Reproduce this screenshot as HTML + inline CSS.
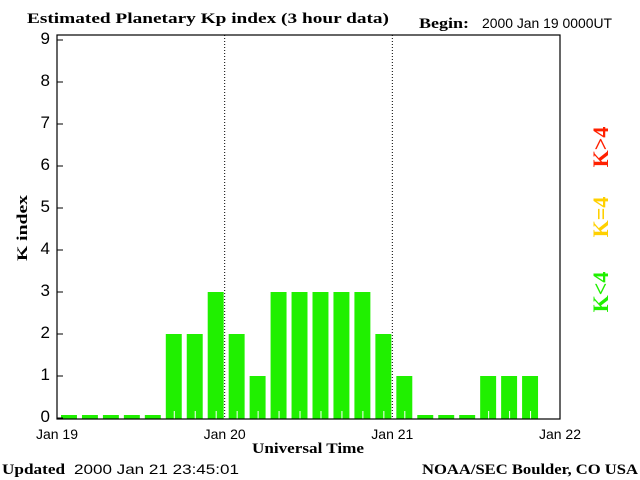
<!DOCTYPE html>
<html><head><meta charset="utf-8"><style>
body{margin:0;background:#fff;}
svg{display:block;}
.serif{font-family:"Liberation Serif",serif;font-weight:bold;}
.sans{font-family:"Liberation Sans",sans-serif;}
</style></head><body>
<svg width="640" height="480" viewBox="0 0 640 480">
<text class="serif" x="27" y="23" font-size="15" textLength="362" lengthAdjust="spacingAndGlyphs">Estimated Planetary Kp index (3 hour data)</text>
<text class="serif" x="419" y="28" font-size="15" textLength="50" lengthAdjust="spacingAndGlyphs">Begin:</text>
<text class="sans" x="482" y="28" font-size="14" textLength="130" lengthAdjust="spacingAndGlyphs">2000 Jan 19 0000UT</text>
<g id="plot"></g>
<text class="serif" x="27" y="228" font-size="15" transform="rotate(-90 27 228)" text-anchor="middle" textLength="66" lengthAdjust="spacingAndGlyphs">K index</text>
<text class="serif" x="252" y="453" font-size="15" textLength="112" lengthAdjust="spacingAndGlyphs">Universal Time</text>
<text class="serif" x="2" y="474" font-size="15" textLength="63" lengthAdjust="spacingAndGlyphs">Updated</text>
<text class="sans" x="74" y="474" font-size="14" textLength="165" lengthAdjust="spacingAndGlyphs">2000 Jan 21 23:45:01</text>
<text class="serif" x="422" y="474" font-size="15" textLength="216" lengthAdjust="spacingAndGlyphs">NOAA/SEC Boulder, CO USA</text>
<text class="serif" x="608" y="147" font-size="22" fill="#ff2000" text-anchor="middle" transform="rotate(-90 608 147)">K&gt;4</text>
<text class="serif" x="608" y="217" font-size="22" fill="#ffd000" text-anchor="middle" transform="rotate(-90 608 217)">K=4</text>
<text class="serif" x="608" y="292" font-size="22" fill="#20f000" text-anchor="middle" transform="rotate(-90 608 292)">K&lt;4</text>
</svg>
<script>
const dayLabels=["Jan 19","Jan 20","Jan 21","Jan 22"];
const yTicks=[0,1,2,3,4,5,6,7,8,9];
const kpValues=[0,0,0,0,0,2,2,3, 2,1,3,3,3,3,3,2, 1,0,0,0,1,1,1];
const X0=57,X1=560,Y0=419,YT=35;
const slotW=(X1-X0)/24;
function xs(slot){return X0+slot*slotW;}
function ys(v){return 418-v*42;}
const NS="http://www.w3.org/2000/svg";
const g=document.getElementById('plot');
function mk(t,a){const e=document.createElementNS(NS,t);for(const k in a)e.setAttribute(k,a[k]);g.appendChild(e);return e;}
kpValues.forEach((v,i)=>{
  const c=v>4?'#ff2000':(v==4?'#ffd000':'#20f000');
  const top=v===0?415:ys(v);
  const r=mk('rect',{x:xs(i)+4,y:top,width:slotW-5,height:Y0-top,fill:c});
  
  
  if(v>0){const t=mk('line',{x1:xs(i)+slotW/2+2,x2:xs(i)+slotW/2+2,y1:411,y2:Y0,stroke:'#fff','stroke-width':1});
  
  }
});
[1,2].forEach(d=>{const l=mk('line',{x1:xs(d*8),x2:xs(d*8),y1:YT,y2:Y0,stroke:'#000','stroke-dasharray':'1,2'});

});
const ax=mk('rect',{x:X0,y:YT,width:X1-X0,height:Y0-YT,fill:'none',stroke:'#000','stroke-width':1.2});


yTicks.forEach(v=>{
  const y=ys(v);
  const t=mk('line',{x1:X0,x2:X0+6,y1:y,y2:y,stroke:'#000'});
  
  
  const tx=mk('text',{x:50,y:y+4,'font-size':17,'text-anchor':'end','font-family':'Liberation Sans, sans-serif'});
  tx.textContent=v;
  
  
});
dayLabels.forEach((s,i)=>{
  const tx=mk('text',{x:xs(i*8),y:439,'font-size':14,'text-anchor':'middle','font-family':'Liberation Sans, sans-serif'});
  tx.textContent=s;
  
  
});
</script>
</body></html>
